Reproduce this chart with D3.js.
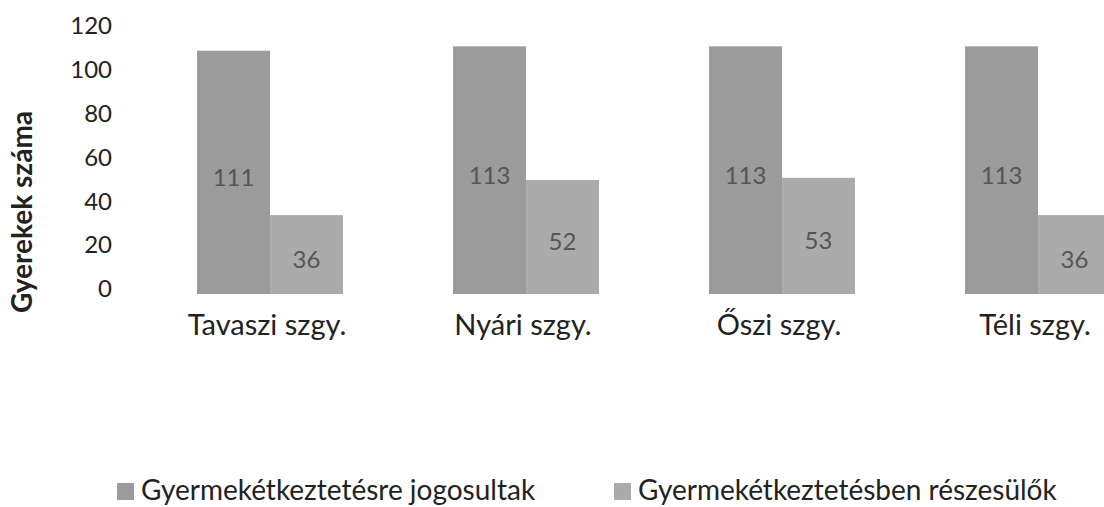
<!DOCTYPE html>
<html><head><meta charset="utf-8">
<script src="https://cdn.jsdelivr.net/npm/d3@7"></script>
<style>body{margin:0;background:#fff;} svg{display:block;} text{font-family:Lato,"Open Sans",sans-serif;}</style>
</head><body>
<svg id="c" width="1104" height="507"></svg>
<script>
const categories = ["Tavaszi szgy.", "Nyári szgy.", "Őszi szgy.", "Téli szgy."];
const seriesNames = ["Gyermekétkeztetésre jogosultak", "Gyermekétkeztetésben részesülők"];
const jogosultak = [111, 113, 113, 113];
const reszesulok = [36, 52, 53, 36];
const yTicks = [0, 20, 40, 60, 80, 100, 120];
const colors = ["#9b9b9b", "#ababab"];

const svg = d3.select("#c");
const y = d3.scaleLinear().domain([0, 120]).range([294, 31]);
const x0 = d3.scaleBand().domain(categories).range([142, 1166]).paddingInner(0.43).paddingOuter(0.215);
const x1 = d3.scaleBand().domain([0, 1]).range([0, x0.bandwidth()]);

// y axis (labels only)
const yAxis = d3.axisLeft(y).tickValues(yTicks).tickSize(0).tickPadding(0);
const ga = svg.append("g").attr("transform", "translate(112,-5)").call(yAxis);
ga.select(".domain").remove();
ga.selectAll("text").attr("font-size", 24).attr("fill", "#222").style("font-family", "Lato,sans-serif");

svg.append("text").attr("transform", "translate(32,212) rotate(-90)")
  .attr("text-anchor", "middle").attr("font-size", 28).attr("font-weight", "bold").attr("fill", "#222")
  .text("Gyerekek száma");

const series = [jogosultak, reszesulok];
categories.forEach((c, i) => {
  const g = svg.append("g").attr("transform", `translate(${x0(c)},0)`);
  series.forEach((s, k) => {
    g.append("rect").attr("x", x1(k)).attr("y", y(s[i])).attr("width", x1.bandwidth())
      .attr("height", y(0) - y(s[i])).attr("fill", colors[k]);
    g.append("text").attr("x", x1(k) + x1.bandwidth() / 2).attr("y", (y(0) + y(s[i])) / 2 + 5)
      .attr("dy", "0.35em").attr("text-anchor", "middle").attr("font-size", 24).attr("fill", "#555")
      .text(s[i]);
  });
});

// category labels (x axis, no line)
const xAxis = d3.axisBottom(x0).tickSize(0).tickPadding(0);
const gx = svg.append("g").attr("transform", "translate(-3,314)").call(xAxis);
gx.select(".domain").remove();
gx.selectAll("text").attr("font-size", 29).attr("fill", "#222").style("font-family", "Lato,sans-serif");

// legend
const legX = [117, 614];
seriesNames.forEach((n, k) => {
  svg.append("rect").attr("x", legX[k]).attr("y", 483).attr("width", 17).attr("height", 17).attr("fill", colors[k]);
  svg.append("text").attr("x", legX[k] + 24).attr("y", 500).attr("font-size", 28).attr("fill", "#222").text(n);
});
</script>
</body></html>
